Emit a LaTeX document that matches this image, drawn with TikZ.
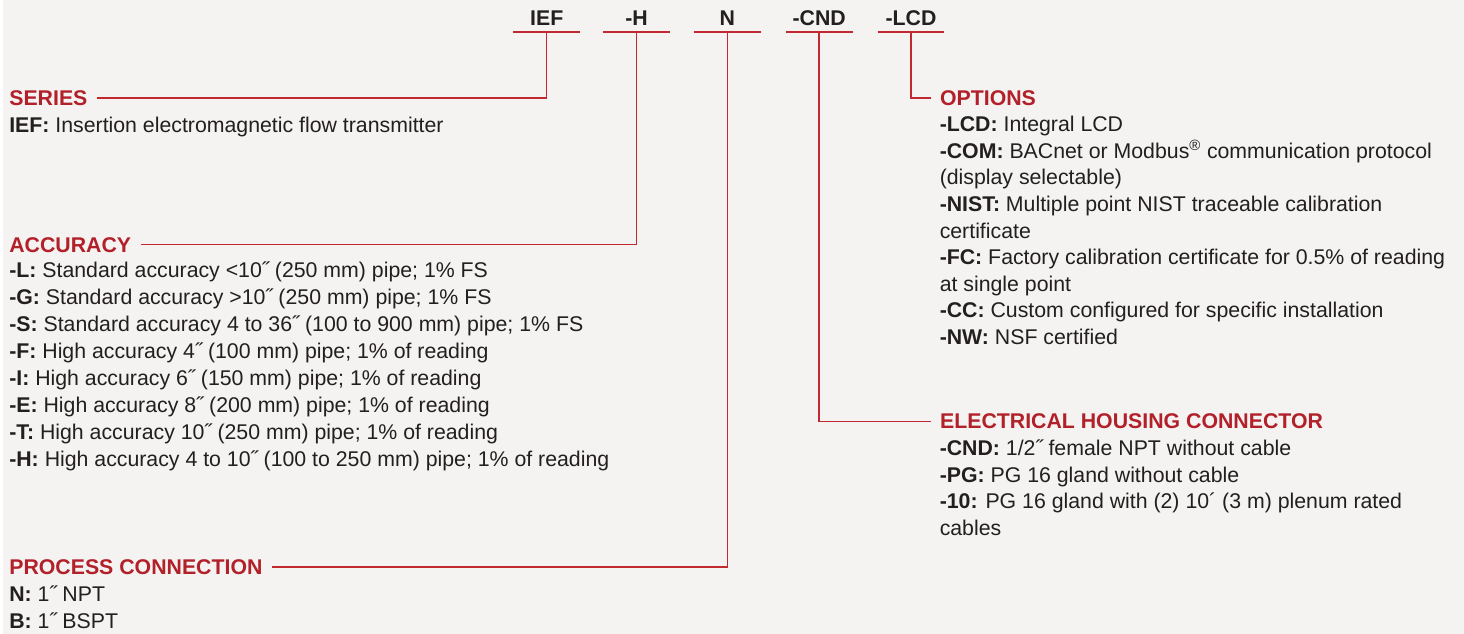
\documentclass[tikz,border=0pt]{standalone}
\usepackage{fontspec}
\setmainfont{Liberation Sans}
\definecolor{hred}{HTML}{B2202A}
\definecolor{lred}{HTML}{C1282F}
\definecolor{txt}{HTML}{231F20}
\definecolor{bg}{HTML}{F4F3F1}
\newcommand\bodyfont{\fontsize{16pt}{19.95pt}\selectfont}
\begin{document}
\begin{tikzpicture}[x=0.75pt,y=-0.75pt,font=\bodyfont,
	lnk/.style={draw=lred,line width=1.1pt},
	code/.style={anchor=base,inner sep=0pt,text=txt,font=\bodyfont\bfseries},
	head/.style={anchor=base west,inner xsep=7pt,inner ysep=0pt,text=hred,font=\bodyfont\bfseries},
	item/.style={anchor=base west,inner sep=0pt,text=txt}]
	\fill[bg] (0,0) rectangle (1464,635);
	% model code on top
	\foreach \x/\nm/\cod in {545/ief/IEF,635/h/-H,726/n/N,818/cnd/-CND,910/lcd/-LCD}{
		\node[code] (\nm) at (\x,25.5) {\cod};
		\draw[lnk] (\x-33.5,32)--(\x+33.5,32);
		\coordinate (\nm s) at (\x,32);}
	% headings
	\node[head] (ser) at (-3,105.5) {SERIES};
	\node[head] (acc) at (-3,252.5) {ACCURACY};
	\node[head] (proc) at (-3,575.5) {PROCESS CONNECTION};
	\node[head] (opt) at (929.5,105.5) {OPTIONS};
	\node[head] (elec) at (929.5,429.5) {ELECTRICAL HOUSING CONNECTOR};
	\draw[lnk] (iefs)|-(ser) (hs)|-(acc) (ns)|-(proc) (lcds)|-(opt) (cnds)|-(elec);
	% entries
	\node[item] (ser1) at (6.3,132.5) {\textbf{IEF:} Insertion electromagnetic flow transmitter};
	\foreach \t [count=\i] in {{\textbf{-L:} Standard accuracy <10˝ (250 mm) pipe; 1\% FS},
		{\textbf{-G:} Standard accuracy >10˝ (250 mm) pipe; 1\% FS},
		{\textbf{-S:} Standard accuracy 4 to 36˝ (100 to 900 mm) pipe; 1\% FS},
		{\textbf{-F:} High accuracy 4˝ (100 mm) pipe; 1\% of reading},
		{\textbf{-I:} High accuracy 6˝ (150 mm) pipe; 1\% of reading},
		{\textbf{-E:} High accuracy 8˝ (200 mm) pipe; 1\% of reading},
		{\textbf{-T:} High accuracy 10˝ (250 mm) pipe; 1\% of reading},
		{\textbf{-H:} High accuracy 4 to 10˝ (100 to 250 mm) pipe; 1\% of reading}}
		\node[item] (acc\i) at (6.3,251.5+27*\i) {\t};
	\foreach \t [count=\i] in {{\textbf{N:} 1˝ NPT},{\textbf{B:} 1˝ BSPT}}
		\node[item] (proc\i) at (6.3,575.5+27*\i) {\t};
	\foreach \t [count=\i] in {{\textbf{-LCD:} Integral LCD},
		{\textbf{-COM:} BACnet or Modbus\textsuperscript{®} communication protocol},
		{(display selectable)},
		{\textbf{-NIST:} Multiple point NIST traceable calibration},
		{certificate},
		{\textbf{-FC:} Factory calibration certificate for 0.5\% of reading},
		{at single point},
		{\textbf{-CC:} Custom configured for specific installation},
		{\textbf{-NW:} NSF certified}}
		\node[item] (opt\i) at (938.5,105.5+26.6*\i) {\t};
	\foreach \t [count=\i] in {{\textbf{-CND:} 1/2˝ female NPT without cable},
		{\textbf{-PG:} PG 16 gland without cable},
		{\textbf{-10:} PG 16 gland with (2) 10´ (3 m) plenum rated},
		{cables}}
		\node[item] (elec\i) at (938.5,430+26.5*\i) {\t};
\end{tikzpicture}
\end{document}
